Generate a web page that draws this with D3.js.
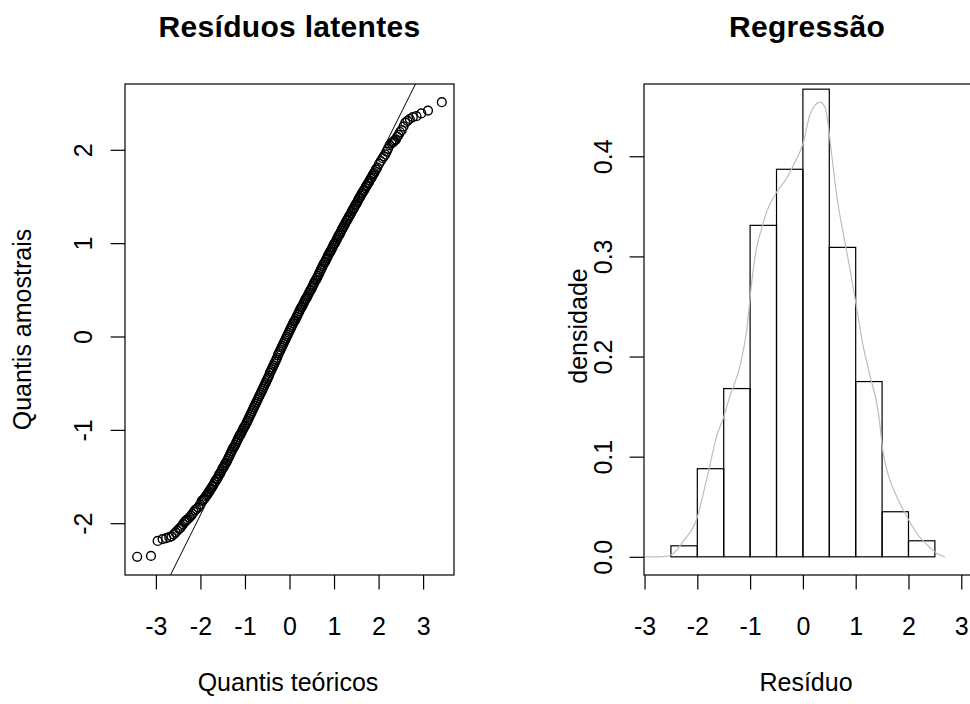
<!DOCTYPE html>
<html><head><meta charset="utf-8">
<script src="https://cdn.jsdelivr.net/npm/d3@7"></script>
<style>
body{margin:0;background:#fff;}
text{font-family:"Liberation Sans",Arial,sans-serif;fill:#000;}
</style></head><body>
<svg id="c" width="970" height="704"></svg>
<script>
// ---------- data ----------
const lowerTailX = [-3.42,-3.11,-2.96,-2.85,-2.77,-2.70,-2.65,-2.60,-2.56,-2.52,-2.48,-2.45,-2.42,-2.39,-2.36,-2.34,-2.32,-2.29,-2.25,-2.21,-2.18,-2.15,-2.12,-2.09,-2.05,-2.01,-1.97];
const lowerTailY = [-2.36,-2.35,-2.19,-2.17,-2.16,-2.15,-2.14,-2.12,-2.10,-2.08,-2.06,-2.05,-2.03,-2.01,-1.99,-1.98,-1.97,-1.96,-1.94,-1.92,-1.90,-1.88,-1.86,-1.85,-1.83,-1.80,-1.76];
const bodyX = [
-1.94,-1.92,-1.90,-1.88,-1.86,-1.84,-1.82,-1.80,-1.78,-1.76,
-1.74,-1.72,-1.70,-1.68,-1.66,-1.64,-1.62,-1.60,-1.58,-1.56,
-1.54,-1.52,-1.50,-1.48,-1.46,-1.44,-1.42,-1.40,-1.38,-1.36,
-1.34,-1.32,-1.30,-1.28,-1.26,-1.24,-1.22,-1.20,-1.18,-1.16,
-1.14,-1.12,-1.10,-1.08,-1.06,-1.04,-1.02,-1.00,-0.98,-0.96,
-0.94,-0.92,-0.90,-0.88,-0.86,-0.84,-0.82,-0.80,-0.78,-0.76,
-0.74,-0.72,-0.70,-0.68,-0.66,-0.64,-0.62,-0.60,-0.58,-0.56,
-0.54,-0.52,-0.50,-0.48,-0.46,-0.44,-0.42,-0.40,-0.38,-0.36,
-0.34,-0.32,-0.30,-0.28,-0.26,-0.24,-0.22,-0.20,-0.18,-0.16,
-0.14,-0.12,-0.10,-0.08,-0.06,-0.04,-0.02,0.00,0.02,0.04,
0.06,0.08,0.10,0.12,0.14,0.16,0.18,0.20,0.22,0.24,
0.26,0.28,0.30,0.32,0.34,0.36,0.38,0.40,0.42,0.44,
0.46,0.48,0.50,0.52,0.54,0.56,0.58,0.60,0.62,0.64,
0.66,0.68,0.70,0.72,0.74,0.76,0.78,0.80,0.82,0.84,
0.86,0.88,0.90,0.92,0.94,0.96,0.98,1.00,1.02,1.04,
1.06,1.08,1.10,1.12,1.14,1.16,1.18,1.20,1.22,1.24,
1.26,1.28,1.30,1.32,1.34,1.36,1.38,1.40,1.42,1.44,
1.46,1.48,1.50,1.52,1.54,1.56,1.58,1.60,1.62,1.64,
1.66,1.68,1.70,1.72,1.74,1.76,1.78,1.80,1.82,1.84,
1.86,1.88,1.90,1.92,1.94];
const bodyY = [
-1.75,-1.74,-1.73,-1.71,-1.70,-1.69,-1.67,-1.66,-1.64,-1.63,
-1.61,-1.60,-1.58,-1.56,-1.55,-1.53,-1.52,-1.50,-1.48,-1.47,
-1.45,-1.43,-1.41,-1.40,-1.38,-1.36,-1.35,-1.33,-1.31,-1.29,
-1.27,-1.25,-1.23,-1.21,-1.19,-1.18,-1.16,-1.14,-1.12,-1.10,
-1.08,-1.06,-1.05,-1.03,-1.01,-0.99,-0.97,-0.96,-0.94,-0.92,
-0.90,-0.88,-0.86,-0.84,-0.82,-0.80,-0.78,-0.76,-0.74,-0.72,
-0.70,-0.68,-0.66,-0.64,-0.62,-0.60,-0.58,-0.56,-0.54,-0.52,
-0.50,-0.48,-0.46,-0.44,-0.42,-0.39,-0.37,-0.35,-0.33,-0.31,
-0.29,-0.27,-0.25,-0.23,-0.20,-0.18,-0.16,-0.14,-0.12,-0.10,
-0.08,-0.06,-0.04,-0.02,0.00,0.02,0.04,0.06,0.08,0.10,
0.12,0.14,0.16,0.17,0.19,0.21,0.23,0.25,0.27,0.29,
0.31,0.32,0.34,0.36,0.38,0.40,0.41,0.43,0.45,0.47,
0.49,0.50,0.52,0.54,0.56,0.58,0.60,0.61,0.63,0.65,
0.67,0.69,0.71,0.73,0.75,0.77,0.79,0.80,0.82,0.84,
0.86,0.88,0.90,0.91,0.93,0.95,0.97,0.99,1.00,1.02,
1.04,1.06,1.08,1.09,1.11,1.13,1.15,1.17,1.18,1.20,
1.22,1.24,1.25,1.27,1.29,1.30,1.32,1.34,1.36,1.37,
1.39,1.41,1.42,1.44,1.46,1.48,1.49,1.51,1.53,1.54,
1.56,1.57,1.59,1.61,1.62,1.64,1.65,1.67,1.69,1.70,
1.72,1.74,1.75,1.77,1.79];
const upperTailX = [1.97,2.01,2.05,2.09,2.12,2.15,2.18,2.21,2.25,2.29,2.32,2.34,2.36,2.39,2.42,2.45,2.48,2.52,2.56,2.60,2.65,2.70,2.77,2.85,2.96,3.11,3.42];
const upperTailY = [1.81,1.85,1.88,1.91,1.93,1.95,1.98,2.01,2.05,2.07,2.08,2.09,2.10,2.11,2.14,2.16,2.19,2.21,2.25,2.29,2.31,2.33,2.35,2.36,2.39,2.42,2.51];
const qqLineIntercept = 0.0;
const qqLineSlope = 0.956;

const histBreaks = [-2.5,-2,-1.5,-1,-0.5,0,0.5,1,1.5,2,2.5];
const histDensity = [0.011,0.088,0.168,0.331,0.387,0.467,0.309,0.175,0.045,0.016];
const densityX = [-3.15,-2.80,-2.60,-2.49,-2.26,-2.01,-1.82,-1.63,-1.51,-1.38,-1.19,-1.06,-0.97,-0.88,-0.78,-0.69,-0.50,-0.31,-0.18,0.01,0.13,0.23,0.32,0.42,0.48,0.54,0.64,0.76,0.89,1.02,1.14,1.27,1.43,1.52,1.62,1.77,1.96,2.15,2.41,2.55,2.69];
const densityY = [0,0,0.0005,0.002,0.016,0.038,0.078,0.121,0.138,0.161,0.191,0.228,0.274,0.308,0.328,0.344,0.364,0.378,0.391,0.414,0.441,0.451,0.454,0.449,0.431,0.404,0.361,0.324,0.288,0.248,0.211,0.181,0.144,0.104,0.081,0.061,0.041,0.024,0.009,0.003,0];

const qqXTicks = [-3,-2,-1,0,1,2,3];
const qqYTicks = [-2,-1,0,1,2];
const histXTicks = [-3,-2,-1,0,1,2,3];
const histYTicks = [0,0.1,0.2,0.3,0.4];
const histYTickLabels = ["0.0","0.1","0.2","0.3","0.4"];
const histXDomain = [-3.01, 3.26];

const titleLeft = "Resíduos latentes", titleRight = "Regressão";
const xLabLeft = "Quantis teóricos", yLabLeft = "Quantis amostrais";
const xLabRight = "Resíduo", yLabRight = "densidade";

// ---------- layout ----------
const svg = d3.select("#c");
const L = {x0:125, x1:454, y0:84, y1:575};
const R = {x0:644, x1:975, y0:84, y1:575};
const TICK = 14.4, FS = 25;
const FONT = '"Liberation Sans",Arial,sans-serif';

function ext(a){ const [lo,hi]=d3.extent(a); const d=(hi-lo)*0.04; return [lo-d, hi+d]; }
const plain = d => String(d);   // ASCII hyphen-minus like R

const qqX = lowerTailX.concat(bodyX, upperTailX);
const qqY = lowerTailY.concat(bodyY, upperTailY);
const qq = qqX.map((x,i)=>({x, y: qqY[i]}));

// ---------- left panel ----------
const xl = d3.scaleLinear().domain(ext(qqX)).range([L.x0, L.x1]);
const yl = d3.scaleLinear().domain(ext(qqY)).range([L.y1, L.y0]);

svg.append("clipPath").attr("id","clipL").append("rect")
  .attr("x",L.x0).attr("y",L.y0).attr("width",L.x1-L.x0).attr("height",L.y1-L.y0);

svg.append("g").selectAll("circle").data(qq).join("circle")
  .attr("cx",d=>xl(d.x)).attr("cy",d=>yl(d.y)).attr("r",4.4)
  .attr("fill","none").attr("stroke","#000").attr("stroke-width",1.4);

const lx = xl.domain();
svg.append("line").attr("clip-path","url(#clipL)")
  .attr("x1",xl(lx[0])).attr("y1",yl(qqLineIntercept+qqLineSlope*lx[0]))
  .attr("x2",xl(lx[1])).attr("y2",yl(qqLineIntercept+qqLineSlope*lx[1]))
  .attr("stroke","#000").attr("stroke-width",1);

// ---------- right panel ----------
const xr = d3.scaleLinear().domain(histXDomain).range([R.x0, R.x1]);
const yr = d3.scaleLinear().domain(ext([0, d3.max(densityY)])).range([R.y1, R.y0]);

svg.append("clipPath").attr("id","clipR").append("rect")
  .attr("x",R.x0).attr("y",R.y0).attr("width",R.x1-R.x0).attr("height",R.y1-R.y0);

const bins = histDensity.map((d,i)=>({a:histBreaks[i], b:histBreaks[i+1], d}));
svg.append("g").attr("clip-path","url(#clipR)").selectAll("rect").data(bins).join("rect")
  .attr("x",d=>xr(d.a)).attr("width",d=>xr(d.b)-xr(d.a))
  .attr("y",d=>yr(d.d)).attr("height",d=>yr(0)-yr(d.d))
  .attr("fill","none").attr("stroke","#000").attr("stroke-width",1.2);

svg.append("path").attr("clip-path","url(#clipR)")
  .datum(densityX.map((x,i)=>[x, densityY[i]]))
  .attr("d", d3.line().x(d=>xr(d[0])).y(d=>yr(d[1])).curve(d3.curveMonotoneX))
  .attr("fill","none").attr("stroke","#bebebe").attr("stroke-width",1.2);

// ---------- boxes ----------
[L,R].forEach(b=>{
  svg.append("rect").attr("x",b.x0).attr("y",b.y0).attr("width",b.x1-b.x0).attr("height",b.y1-b.y0)
    .attr("fill","none").attr("stroke","#000").attr("stroke-width",1.2);
});

// ---------- axes ----------
function bottomAxis(scale, ticks, y){
  const g = svg.append("g").attr("transform",`translate(0,${y})`)
    .call(d3.axisBottom(scale).tickValues(ticks).tickSize(TICK).tickFormat(plain));
  g.select(".domain").remove();
  g.selectAll(".tick line").attr("stroke","#000").attr("stroke-width",1.2);
  g.selectAll(".tick text").attr("y",60).attr("dy",null)
    .style("font-size",FS+"px").style("font-family",FONT).attr("fill","#000");
}
function leftAxis(scale, ticks, x, labels, off){
  const g = svg.append("g").attr("transform",`translate(${x},0)`)
    .call(d3.axisLeft(scale).tickValues(ticks).tickSize(TICK).tickFormat((d,i)=>labels? labels[i] : plain(d)));
  g.select(".domain").remove();
  g.selectAll(".tick line").attr("stroke","#000").attr("stroke-width",1.2);
  g.selectAll(".tick text").attr("x",null).attr("dy",null).attr("text-anchor","middle")
    .attr("transform",`translate(${off},0) rotate(-90)`)
    .style("font-size",FS+"px").style("font-family",FONT).attr("fill","#000");
}
bottomAxis(xl, qqXTicks, L.y1);
leftAxis(yl, qqYTicks, L.x0, null, -33);
bottomAxis(xr, histXTicks, R.y1);
leftAxis(yr, histYTicks, R.x0, histYTickLabels, -32);

// ---------- titles & labels ----------
function txt(s, x, y, opts){
  const t = svg.append("text").text(s).attr("text-anchor","middle")
    .style("font-size",(opts.fs||FS)+"px");
  if(opts.bold) t.style("font-weight","bold");
  if(opts.ls) t.style("letter-spacing",opts.ls+"px");
  if(opts.rot) t.attr("transform",`translate(${x},${y}) rotate(-90)`);
  else t.attr("x",x).attr("y",y);
  return t;
}
txt(titleLeft, 289.5, 37, {fs:30, bold:true, ls:0.3});
txt(titleRight, 807, 37, {fs:30, bold:true, ls:0.3});
txt(xLabLeft, 288, 691, {});
txt(xLabRight, 806, 691, {});
txt(yLabLeft, 31, 329.5, {rot:true});
txt(yLabRight, 587, 326, {rot:true});
</script>
</body></html>
